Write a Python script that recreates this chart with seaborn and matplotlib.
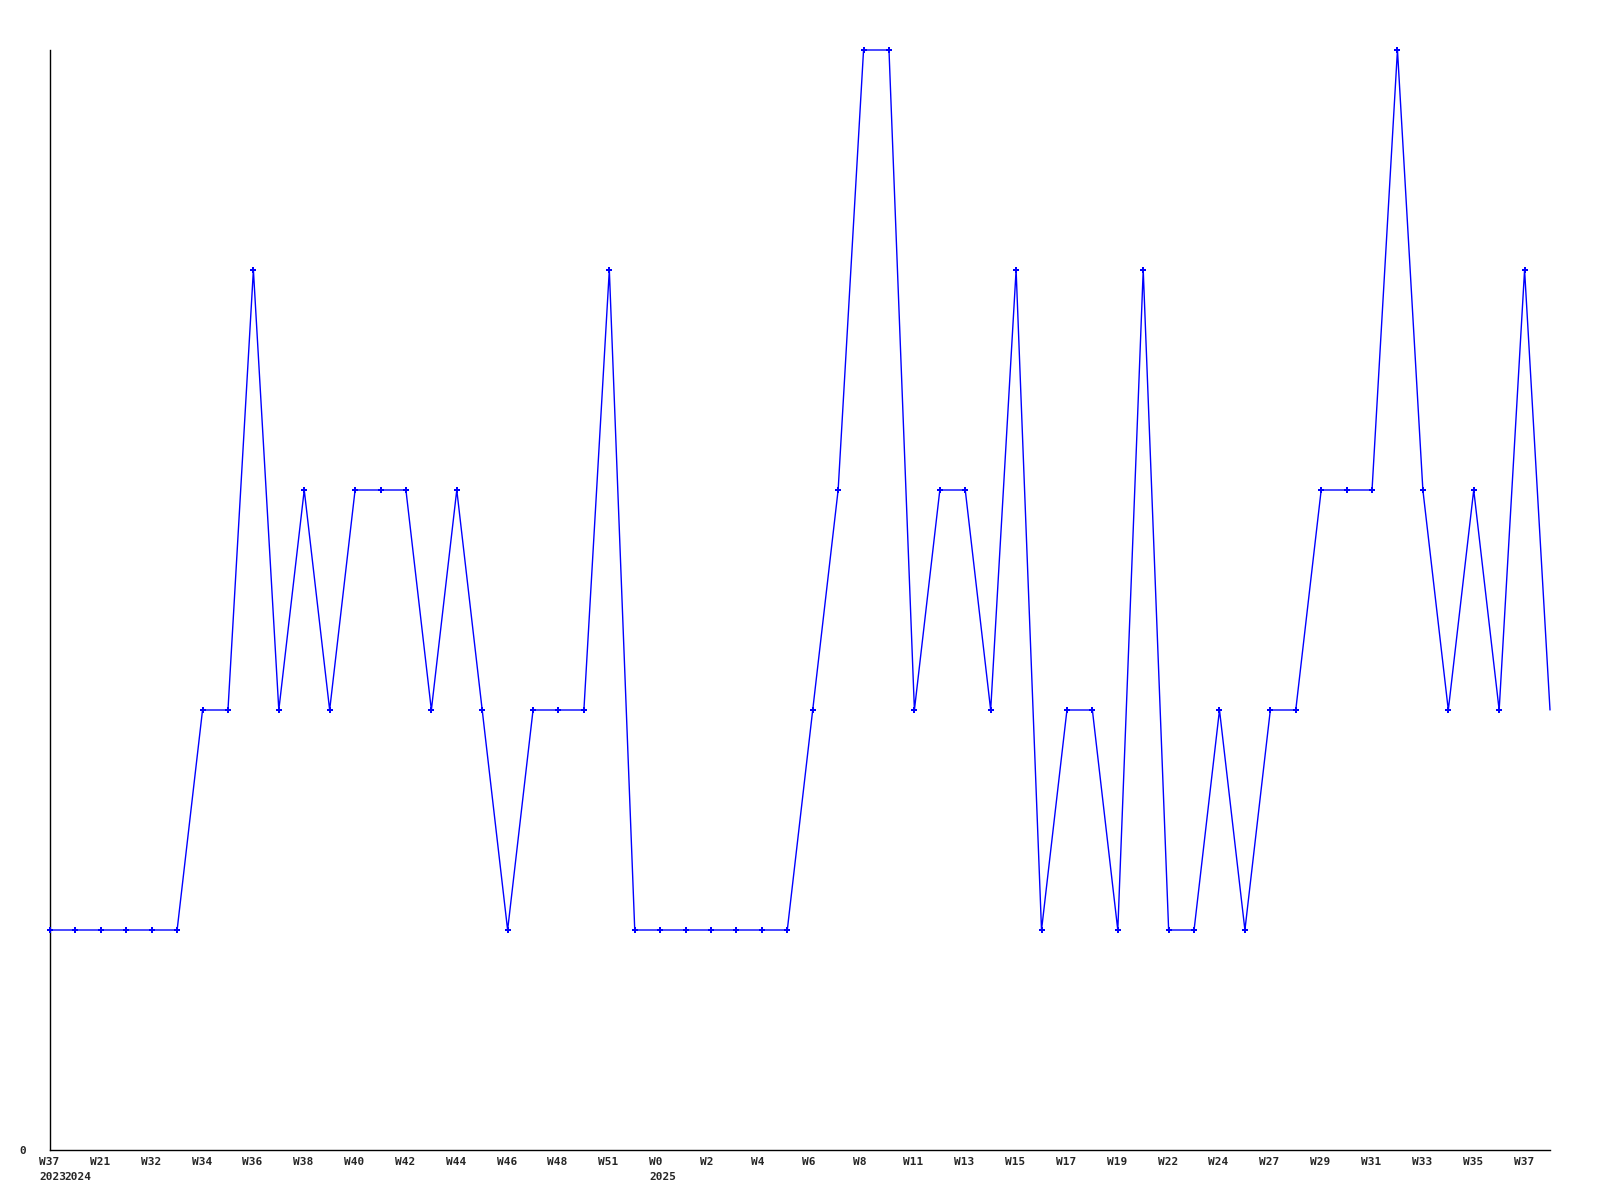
import pandas as pd
import matplotlib
matplotlib.use("Agg")
import matplotlib.pyplot as plt
import seaborn as sns

# weekly counts, one per point (last point is the running week, drawn without marker)
counts = [1, 1, 1, 1, 1, 1, 2, 2, 4, 2,
          3, 2, 3, 3, 3, 2, 3, 2, 1, 2,
          2, 2, 4, 1, 1, 1, 1, 1, 1, 1,
          2, 3, 5, 5, 2, 3, 3, 2, 4, 1,
          2, 2, 1, 4, 1, 1, 2, 1, 2, 2,
          3, 3, 3, 5, 3, 2, 3, 2, 4, 2]

week_pos = list(range(0, 59, 2))
week_labels = ["W37", "W21", "W32", "W34", "W36", "W38", "W40", "W42", "W44", "W46",
               "W48", "W51", "W0", "W2", "W4", "W6", "W8", "W11", "W13", "W15",
               "W17", "W19", "W22", "W24", "W27", "W29", "W31", "W33", "W35", "W37"]

year_pos = [0, 1, 24]
year_labels = ["2023", "2024", "2025"]

df = pd.DataFrame({"idx": range(len(counts)), "count": counts})

sns.set_style("white")
plt.rcParams["font.family"] = ["DejaVu Sans Mono"]

fig = plt.figure(figsize=(16, 12), dpi=100)
ax = fig.add_axes([50 / 1600, 50 / 1200, 1500 / 1600, 1100 / 1200])

sns.lineplot(data=df, x="idx", y="count", ax=ax, color="#0000ff", linewidth=1)
sns.scatterplot(data=df.iloc[:-1], x="idx", y="count", ax=ax, color="#0000ff",
                marker="P", s=18, linewidth=0, clip_on=False, zorder=5)
for ln in ax.lines:
    ln.set_clip_on(False)

ax.set_xlim(0, len(counts) - 1)
ax.set_ylim(0, 5)
for side in ["top", "right"]:
    ax.spines[side].set_visible(False)
for side in ["left", "bottom"]:
    ax.spines[side].set_color("black")
    ax.spines[side].set_linewidth(1)

ax.set_xticks([])
ax.set_yticks([0])
ax.set_yticklabels(["0"], fontsize=8, fontweight="bold")
ax.tick_params(axis="y", length=0, pad=17)
ax.set_xlabel("")
ax.set_ylabel("")

for p, lab in zip(week_pos, week_labels):
    ax.annotate(lab, xy=(p, 0), xycoords="data", xytext=(-11, -12),
                textcoords="offset pixels", ha="left", va="center",
                fontsize=8, fontweight="bold", annotation_clip=False)
for p, lab in zip(year_pos, year_labels):
    ax.annotate(lab, xy=(p, 0), xycoords="data", xytext=(-11, -27),
                textcoords="offset pixels", ha="left", va="center",
                fontsize=8, fontweight="bold", annotation_clip=False)

fig.savefig("out.png", dpi=100)
